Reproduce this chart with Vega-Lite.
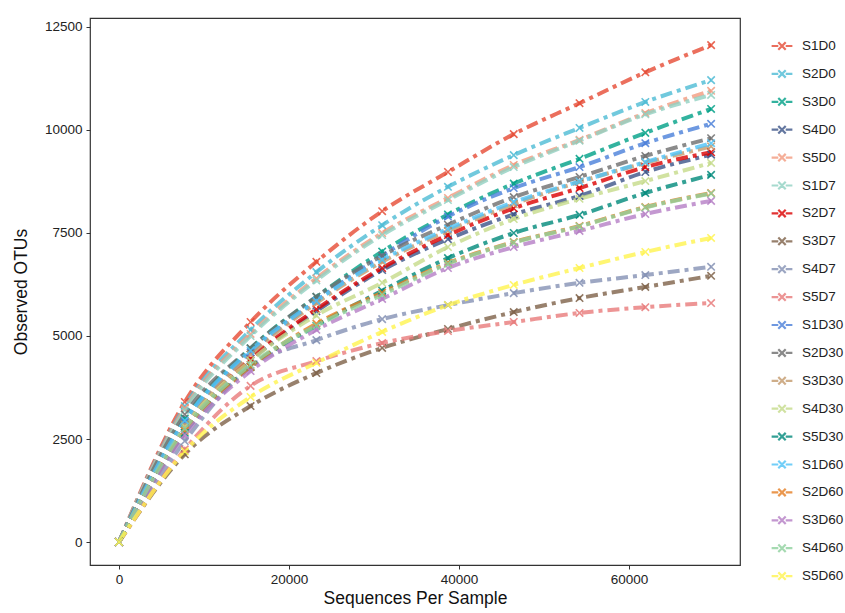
{
  "$schema": "https://vega.github.io/schema/vega-lite/v6.json",
  "width": 650,
  "height": 547,
  "autosize": {"type": "none"},
  "padding": {"left": 90, "top": 18, "right": 105, "bottom": 48},
  "background": "white",
  "config": {
    "view": {"stroke": "#333333", "strokeWidth": 1.2},
    "font": "Liberation Sans",
    "axis": {"grid": false, "domain": false, "tickColor": "#333333", "tickSize": 4, "labelColor": "#222222", "labelFontSize": 13.5, "titleFontSize": 17.5, "titleFontWeight": "normal", "titleColor": "#111111", "labelFont": "Liberation Sans", "titleFont": "Liberation Sans"}
  },
  "datasets": {
    "curves": [
      {"s":"S1D0","v":[0,3400,5340,6800,8030,8980,9900,10650,11400,12060]},
      {"s":"S2D0","v":[0,3300,5150,6550,7690,8620,9390,10050,10680,11210]},
      {"s":"S3D0","v":[0,3000,4700,5950,7050,7950,8700,9300,9930,10510]},
      {"s":"S4D0","v":[0,2750,4400,5600,6600,7350,7950,8400,8980,9400]},
      {"s":"S5D0","v":[0,3250,5050,6400,7500,8350,9150,9760,10410,10950]},
      {"s":"S1D7","v":[0,3200,5000,6350,7450,8300,9100,9740,10380,10850]},
      {"s":"S2D7","v":[0,2800,4450,5650,6650,7450,8100,8590,9100,9460]},
      {"s":"S3D7","v":[0,2130,3300,4100,4710,5170,5580,5920,6190,6460]},
      {"s":"S4D7","v":[0,2450,4250,4900,5410,5750,6040,6290,6480,6680]},
      {"s":"S5D7","v":[0,2250,3790,4390,4830,5120,5340,5560,5700,5800]},
      {"s":"S1D30","v":[0,2900,4600,5850,6950,7900,8590,9100,9680,10150]},
      {"s":"S2D30","v":[0,3100,4700,5950,6950,7700,8370,8860,9370,9800]},
      {"s":"S3D30","v":[0,2850,4550,5800,6800,7550,8200,8740,9200,9600]},
      {"s":"S4D30","v":[0,2800,4400,5500,6290,7160,7840,8330,8760,9200]},
      {"s":"S5D30","v":[0,2650,4250,5250,6100,6890,7500,7940,8470,8910]},
      {"s":"S1D60","v":[0,2950,4650,5850,6850,7600,8250,8750,9220,9680]},
      {"s":"S2D60","v":[0,2700,4250,5300,6050,6770,7280,7670,8130,8470]},
      {"s":"S3D60","v":[0,2600,4150,5150,5900,6650,7160,7550,7960,8280]},
      {"s":"S4D60","v":[0,2750,4300,5250,6000,6750,7270,7660,8120,8460]},
      {"s":"S5D60","v":[0,2200,3520,4350,5100,5750,6240,6650,7040,7380]}
    ],
    "depths": [
      {"i":1,"x":0},{"i":2,"x":7740},{"i":3,"x":15480},{"i":4,"x":23220},{"i":5,"x":30960},
      {"i":6,"x":38700},{"i":7,"x":46440},{"i":8,"x":54180},{"i":9,"x":61920},{"i":10,"x":69660}
    ]
  },
  "data": {"name": "curves"},
  "transform": [
    {"flatten": ["v"], "as": ["y"]},
    {"window": [{"op": "row_number", "as": "i"}], "groupby": ["s"]},
    {"lookup": "i", "from": {"data": {"name": "depths"}, "key": "i", "fields": ["x"]}}
  ],
  "encoding": {
    "x": {"field": "x", "type": "quantitative", "scale": {"domain": [-3412, 73059], "nice": false, "zero": false},
      "axis": {"values": [0, 20000, 40000, 60000], "format": "d", "title": "Sequences Per Sample", "titlePadding": 4, "labelPadding": 3}},
    "y": {"field": "y", "type": "quantitative", "scale": {"domain": [-558, 12718], "nice": false, "zero": false},
      "axis": {"values": [0, 2500, 5000, 7500, 10000, 12500], "format": "d", "title": "Observed OTUs", "titlePadding": 14, "labelPadding": 4}},
    "color": {"field": "s", "type": "nominal", "title": null,
      "scale": {
        "domain": ["S1D0","S2D0","S3D0","S4D0","S5D0","S1D7","S2D7","S3D7","S4D7","S5D7","S1D30","S2D30","S3D30","S4D30","S5D30","S1D60","S2D60","S3D60","S4D60","S5D60"],
        "range": ["#E64B35","#4DBBD5","#00A087","#3C5488","#F39B7F","#91D1C2","#DC0000","#7E6148","#8491B4","#E87A7A","#4A7FD9","#6E6E6E","#C49A6C","#C5DB8A","#00897B","#4FC3F7","#E67E22","#B57EC5","#8FD19E","#FFF44F"]
      },
      "legend": {"orient": "none", "legendX": 683, "legendY": 19, "rowPadding": 9.9, "labelFontSize": 13.5, "labelColor": "#222222", "labelFont": "Liberation Sans", "symbolType": "M-1.4,0L-0.5,0M0.5,0L1.4,0M-0.5,-0.5L0.5,0.5M-0.5,0.5L0.5,-0.5", "symbolSize": 220, "symbolStrokeWidth": 2.2, "symbolOpacity": 0.8, "labelOffset": 11}
    }
  },
  "layer": [
    {"mark": {"type": "line", "interpolate": "monotone", "strokeWidth": 4, "strokeDash": [12, 5, 4, 5], "opacity": 0.8}},
    {"mark": {"type": "point", "shape": "M-1,-1L1,1M-1,1L1,-1", "filled": false, "size": 55, "strokeWidth": 1.6, "opacity": 0.85}}
  ]
}
